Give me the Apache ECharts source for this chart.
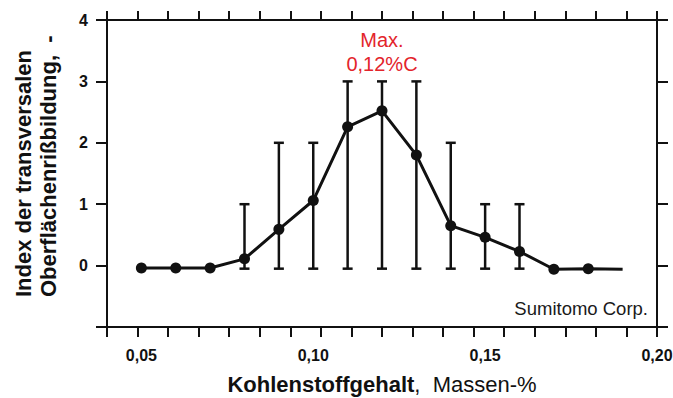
<!DOCTYPE html>
<html>
<head>
<meta charset="utf-8">
<script src="https://cdn.jsdelivr.net/npm/echarts@6/dist/echarts.min.js"></script>
<style>
  html, body { margin: 0; padding: 0; background: #fff; }
  #chart { width: 673px; height: 398px; }
</style>
</head>
<body>
<div id="chart"></div>
<script>
// Carbon content (mass-%) and mean transverse surface crack index
const carbon = [0.05, 0.06, 0.07, 0.08, 0.09, 0.10, 0.11, 0.12, 0.13, 0.14, 0.15, 0.16, 0.17, 0.18, 0.19];
const crackIndex = [-0.04, -0.04, -0.04, 0.11, 0.59, 1.06, 2.26, 2.52, 1.80, 0.65, 0.46, 0.23, -0.06, -0.05, -0.06];

// Scatter range (error bars) for the middle carbon grades
const rangeCarbon = [0.08, 0.09, 0.10, 0.11, 0.12, 0.13, 0.14, 0.15, 0.16];
const rangeLow = [-0.05, -0.05, -0.05, -0.05, -0.05, -0.05, -0.05, -0.05, -0.05];
const rangeHigh = [1, 2, 2, 3, 3, 3, 2, 1, 1];

const xLabelValues = [0.05, 0.10, 0.15, 0.20];
const yLabelValues = [0, 1, 2, 3, 4];

const xMin = 0.04, xMax = 0.20;
const xTickCount = 18;
const xTicks = Array.from({ length: xTickCount + 1 }, (_, k) => xMin + k * (xMax - xMin) / xTickCount);

const FONT = '"Liberation Sans", Arial, Helvetica, sans-serif';
const INK = '#111';
const RED = '#e3242b';

const fmtComma = v => v.toFixed(2).replace('.', ',');

// Peak of the curve, used for the annotation
let peak = 0;
crackIndex.forEach((v, i) => { if (v > crackIndex[peak]) peak = i; });

const lineData = carbon.map((c, i) =>
  i === carbon.length - 1 ? { value: [c, crackIndex[i]], symbol: 'none' } : [c, crackIndex[i]]
);
const rangeData = rangeCarbon.map((c, i) => [c, rangeLow[i], rangeHigh[i]]);

const axisLine = { show: true, onZero: false, lineStyle: { color: INK, width: 2 } };
const tickStyle = { color: INK, width: 2 };

const chart = echarts.init(document.getElementById('chart'), null, { renderer: 'svg' });

chart.setOption({
  animation: false,
  backgroundColor: '#fff',
  grid: { left: 107, right: 16, top: 20, bottom: 71, containLabel: false, outerBoundsMode: 'none' },
  xAxis: [
    {
      type: 'value', position: 'bottom', min: xMin, max: xMax,
      axisLine,
      axisTick: { show: true, length: 10, lineStyle: tickStyle, customValues: xTicks },
      axisLabel: {
        show: true, margin: 20, customValues: xLabelValues, formatter: fmtComma,
        color: INK, fontFamily: FONT, fontSize: 16, fontWeight: 'bold'
      },
      splitLine: { show: false },
      name: '{b|Kohlenstoffgehalt}{r|,  Massen-%}',
      nameLocation: 'middle', nameGap: 46,
      nameTextStyle: {
        rich: {
          b: { fontFamily: FONT, fontSize: 22, fontWeight: 'bold', color: INK },
          r: { fontFamily: FONT, fontSize: 22, color: INK }
        }
      }
    },
    {
      type: 'value', position: 'top', min: xMin, max: xMax,
      axisLine,
      axisTick: { show: true, length: 9, lineStyle: tickStyle, customValues: xTicks },
      axisLabel: { show: false },
      splitLine: { show: false }
    }
  ],
  yAxis: [
    {
      type: 'value', position: 'left', min: -1, max: 4, interval: 1,
      axisLine,
      axisTick: { show: true, length: 11, lineStyle: tickStyle },
      axisLabel: {
        show: true, margin: 19, customValues: yLabelValues,
        color: INK, fontFamily: FONT, fontSize: 16, fontWeight: 'bold'
      },
      splitLine: { show: false }
    },
    {
      type: 'value', position: 'right', min: -1, max: 4, interval: 1,
      axisLine,
      axisTick: { show: true, length: 11, lineStyle: tickStyle },
      axisLabel: { show: false },
      splitLine: { show: false }
    }
  ],
  series: [
    {
      type: 'custom',
      xAxisIndex: 0, yAxisIndex: 0,
      data: rangeData,
      encode: { x: 0, y: [1, 2] },
      z: 2,
      renderItem: (params, api) => {
        const x = api.value(0);
        const pLo = api.coord([x, api.value(1)]);
        const pHi = api.coord([x, api.value(2)]);
        const hw = 5;
        const style = { stroke: INK, lineWidth: 2.5, fill: null };
        return {
          type: 'group',
          children: [
            { type: 'line', shape: { x1: pLo[0], y1: pLo[1], x2: pHi[0], y2: pHi[1] }, style },
            { type: 'line', shape: { x1: pLo[0] - hw, y1: pLo[1], x2: pLo[0] + hw, y2: pLo[1] }, style },
            { type: 'line', shape: { x1: pHi[0] - hw, y1: pHi[1], x2: pHi[0] + hw, y2: pHi[1] }, style }
          ]
        };
      }
    },
    {
      type: 'line',
      xAxisIndex: 0, yAxisIndex: 0,
      data: lineData,
      z: 3,
      symbol: 'circle',
      symbolSize: 11,
      lineStyle: { color: INK, width: 3 },
      itemStyle: { color: INK },
      markPoint: {
        symbol: 'circle',
        symbolSize: 0,
        data: [{ coord: [carbon[peak], 3.48] }],
        label: {
          show: true,
          position: 'inside',
          formatter: 'Max.\n' + fmtComma(carbon[peak]) + '%C',
          color: RED, fontFamily: FONT, fontSize: 20, lineHeight: 24, align: 'center'
        }
      }
    }
  ],
  graphic: [
    {
      type: 'text',
      x: 35.5, y: 297,
      rotation: Math.PI / 2,
      style: {
        text: 'Index der transversalen\nOberflächenrißbildung,  -',
        fontFamily: FONT, fontSize: 22, fontWeight: 'bold', fill: INK,
        lineHeight: 25, align: 'left', verticalAlign: 'middle'
      }
    },
    {
      type: 'text',
      x: 648, y: 308,
      style: {
        text: 'Sumitomo Corp.',
        fontFamily: FONT, fontSize: 18.5, fill: '#1a1a1a',
        align: 'right', verticalAlign: 'middle'
      }
    }
  ]
});
</script>
</body>
</html>
